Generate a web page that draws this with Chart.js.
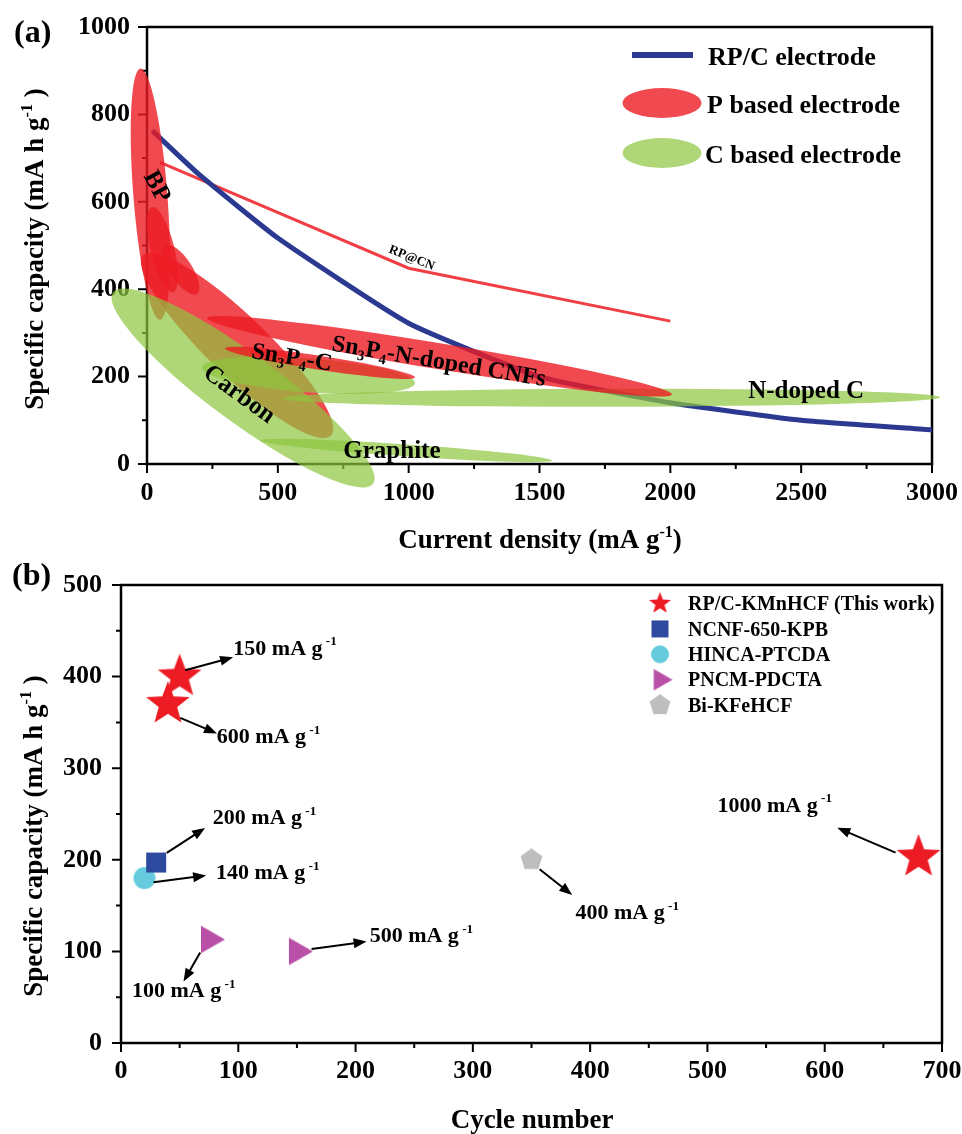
<!DOCTYPE html>
<html>
<head>
<meta charset="utf-8">
<title>RP/C electrode comparison</title>
<script src="https://cdn.jsdelivr.net/npm/chart.js@4.4.1/dist/chart.umd.min.js"></script>
<style>
  body { margin: 0; background: #fff; }
  #panelA { position: absolute; left: 0; top: 0; }
  #panelB { position: absolute; left: 0; top: 560px; }
  canvas { display: block; }
</style>
</head>
<body>
<div id="panelA"><canvas id="chartA" width="962" height="560"></canvas></div>
<div id="panelB"><canvas id="chartB" width="962" height="574"></canvas></div>
<script>
// ---------- (a) rate capability ----------
const rpcCurrent = [20, 200, 500, 1000, 1500, 2000, 2500, 3000];
const rpcCapacity = [763, 662, 517, 322, 200, 140, 100, 78];
const rpcnCurrent = [50, 1000, 2000];
const rpcnCapacity = [690, 448, 327];

// literature bands: [current, capacity] at the two ends of each band
const pBandNames = ['BP', 'BP 2', 'BP 3', 'P/C', 'Sn3P4-N-doped CNFs', 'Sn3P4-C'];
const pBandStart = [[-25, 905], [19, 588], [69, 501], [-15, 478], [229, 334], [298, 265]];
const pBandEnd = [[50, 330], [99, 393], [191, 389], [703, 65], [2006, 159], [1024, 198]];
const cBandNames = ['Carbon', 'Sn3P4-C', 'N-doped C', 'Graphite'];
const cBandStart = [[-130, 393], [210, 221], [520, 150], [432, 54]];
const cBandEnd = [[864, -45], [1024, 185], [3031, 153], [1548, 8]];

// ---------- (b) cycling comparison ----------
const seriesNames = ['RP/C-KMnHCF (This work)', 'NCNF-650-KPB', 'HINCA-PTCDA', 'PNCM-PDCTA', 'Bi-KFeHCF'];
const rpcCycles = [50, 40, 680];
const rpcCap = [400, 370, 203];
const ncnfCycles = [30];
const ncnfCap = [197];
const hincaCycles = [20];
const hincaCap = [180];
const pncmCycles = [75, 150];
const pncmCap = [113, 100];
const bikCycles = [350];
const bikCap = [200];
const rateValues = ['150', '600', '1000', '200', '140', '100', '500', '400'];

// ---------- styling ----------
const FONT = '"Liberation Serif", "Times New Roman", serif';
const RED = 'rgba(237,28,36,0.8)';
const GREEN = 'rgba(141,198,63,0.7)';
const BLUE = '#2B3990';
const font = s => `bold ${s}px ${FONT}`;

// text with sub/superscripts, y is the middle of capitals
function richText(ctx, parts, x, y, size, opts = {}) {
  const align = opts.align || 'left';
  const pieces = parts.map(p => {
    const [t, kind] = Array.isArray(p) ? p : [p, ''];
    const s = kind ? size * 0.6 : size;
    ctx.font = font(s);
    return { t, kind, s, w: ctx.measureText(t).width };
  });
  const total = pieces.reduce((a, p) => a + p.w, 0);
  ctx.save();
  ctx.translate(x, y);
  ctx.rotate((opts.rotate || 0) * Math.PI / 180);
  let cx = align === 'center' ? -total / 2 : align === 'right' ? -total : 0;
  ctx.fillStyle = '#000';
  ctx.textAlign = 'left';
  ctx.textBaseline = 'alphabetic';
  pieces.forEach(p => {
    ctx.font = font(p.s);
    const dy = p.kind === 'sub' ? size * 0.2 : p.kind === 'sup' ? -size * 0.42 : 0;
    ctx.fillText(p.t, cx, size * 0.33 + dy);
    cx += p.w;
  });
  ctx.restore();
}

function drawFrame(chart) {
  const { ctx, chartArea: a, scales: { x, y } } = chart;
  ctx.save();
  ctx.strokeStyle = '#000';
  ctx.lineWidth = 2.5;
  ctx.strokeRect(a.left, a.top, a.right - a.left, a.bottom - a.top);
  ctx.lineWidth = 2;
  ctx.beginPath();
  x.ticks.forEach(t => {
    const px = x.getPixelForValue(t.value);
    ctx.moveTo(px, a.bottom);
    ctx.lineTo(px, a.bottom + (t.label !== '' ? 9 : 5));
  });
  y.ticks.forEach(t => {
    const py = y.getPixelForValue(t.value);
    ctx.moveTo(a.left, py);
    ctx.lineTo(a.left - (t.label !== '' ? 9 : 5), py);
  });
  ctx.stroke();
  ctx.restore();
}

function drawBand(ctx, x, y, from, to, halfWidth, color) {
  const x1 = x.getPixelForValue(from[0]), y1 = y.getPixelForValue(from[1]);
  const x2 = x.getPixelForValue(to[0]), y2 = y.getPixelForValue(to[1]);
  ctx.beginPath();
  ctx.ellipse((x1 + x2) / 2, (y1 + y2) / 2, Math.hypot(x2 - x1, y2 - y1) / 2, halfWidth,
    Math.atan2(y2 - y1, x2 - x1), 0, Math.PI * 2);
  ctx.fillStyle = color;
  ctx.fill();
}

function markerCanvas(shape, size, color) {
  const c = document.createElement('canvas');
  const s = Math.ceil(size * 2 + 2);
  c.width = s; c.height = s;
  const g = c.getContext('2d');
  g.translate(s / 2, s / 2);
  g.fillStyle = color;
  g.beginPath();
  if (shape === 'star') {
    for (let i = 0; i < 10; i++) {
      const r = i % 2 ? size * 0.42 : size;
      const ang = -Math.PI / 2 + i * Math.PI / 5;
      g.lineTo(r * Math.cos(ang), r * Math.sin(ang));
    }
  } else if (shape === 'pentagon') {
    for (let i = 0; i < 5; i++) {
      const ang = -Math.PI / 2 + i * 2 * Math.PI / 5;
      g.lineTo(size * Math.cos(ang), size * Math.sin(ang));
    }
  } else if (shape === 'square') {
    g.rect(-size, -size, size * 2, size * 2);
  } else if (shape === 'circle') {
    g.arc(0, 0, size, 0, Math.PI * 2);
  } else if (shape === 'triangle') {
    g.moveTo(size, 0);
    g.lineTo(-size / 2, size * 0.866);
    g.lineTo(-size / 2, -size * 0.866);
  }
  g.closePath();
  g.fill();
  return c;
}

const pts = (xs, ys) => xs.map((v, i) => ({ x: v, y: ys[i] }));

// keep the plot box where the layout padding puts it
const noPadX = (h) => s => { s.height = h; s.paddingLeft = 0; s.paddingRight = 0; };
const noPadY = (w) => s => { s.width = w; s.paddingTop = 0; s.paddingBottom = 0; };

// ================= chart (a) =================
const pBandHalf = [17, 12, 11, 30, 13, 7];
const cBandHalf = [34, 17, 9, 6];
const bandOrder = [['p', 0], ['p', 1], ['p', 2], ['p', 3], ['c', 0], ['c', 1], ['c', 2], ['c', 3], ['p', 4], ['p', 5]];

const bandLabels = [
  { parts: ['BP'], at: [42, 636], rot: 62, size: 25 },
  { parts: ['RP@CN'], at: [1013, 473], rot: 22, size: 13 },
  { parts: ['Sn', ['3', 'sub'], 'P', ['4', 'sub'], '-N-doped CNFs'], at: [1116, 237], rot: 9.5, size: 24 },
  { parts: ['Sn', ['3', 'sub'], 'P', ['4', 'sub'], '-C'], at: [554, 246], rot: 9, size: 24 },
  { parts: ['Carbon'], at: [355, 162], rot: 36, size: 25 },
  { parts: ['Graphite'], at: [936, 33], rot: 0, size: 25 },
  { parts: ['N-doped C'], at: [2519, 171], rot: 0, size: 25 }
];

const decorA = {
  id: 'decorA',
  beforeDatasetsDraw(chart) { drawFrame(chart); },
  afterDatasetsDraw(chart) {
    const { ctx, scales: { x, y } } = chart;
    ctx.save();
    bandOrder.forEach(([kind, i]) => {
      if (kind === 'p') drawBand(ctx, x, y, pBandStart[i], pBandEnd[i], pBandHalf[i], RED);
      else drawBand(ctx, x, y, cBandStart[i], cBandEnd[i], cBandHalf[i], GREEN);
    });
    ctx.restore();
    bandLabels.forEach(l => richText(ctx, l.parts, x.getPixelForValue(l.at[0]), y.getPixelForValue(l.at[1]),
      l.size, { align: 'center', rotate: l.rot }));

    // legend
    ctx.save();
    ctx.strokeStyle = BLUE; ctx.lineWidth = 6;
    ctx.beginPath(); ctx.moveTo(632, 55); ctx.lineTo(693, 55); ctx.stroke();
    ctx.fillStyle = RED;
    ctx.beginPath(); ctx.ellipse(662, 103, 39.5, 15, 0, 0, Math.PI * 2); ctx.fill();
    ctx.fillStyle = GREEN;
    ctx.beginPath(); ctx.ellipse(662, 153, 39.5, 15, 0, 0, Math.PI * 2); ctx.fill();
    ctx.restore();
    richText(ctx, ['RP/C electrode'], 708, 56, 26);
    richText(ctx, ['P based electrode'], 707, 104, 26);
    richText(ctx, ['C based electrode'], 705, 154, 26);

    // titles
    richText(ctx, ['Current density (mA g', ['-1', 'sup'], ')'], 540, 539, 27, { align: 'center' });
    richText(ctx, ['Specific capacity (mA h g', ['-1', 'sup'], ' )'], 34, 249, 27, { align: 'center', rotate: -90 });
    richText(ctx, ['(a)'], 14, 31, 32);
  }
};

const tickFont = { family: FONT, size: 26, weight: 'bold' };

new Chart(document.getElementById('chartA'), {
  type: 'scatter',
  data: {
    datasets: [
      { label: 'RP/C electrode', data: pts(rpcCurrent, rpcCapacity), showLine: true, borderColor: BLUE,
        borderWidth: 5, pointRadius: 0, tension: 0.15 },
      { label: 'RP@CN', data: pts(rpcnCurrent, rpcnCapacity), showLine: true, borderColor: 'rgba(237,28,36,0.85)',
        borderWidth: 3, pointRadius: 0, tension: 0 }
    ]
  },
  options: {
    responsive: false,
    animation: false,
    layout: { padding: { left: 0, top: 27, right: 30, bottom: 0 } },
    plugins: { legend: { display: false }, tooltip: { enabled: false } },
    scales: {
      x: {
        type: 'linear', min: 0, max: 3000,
        grid: { display: false, drawTicks: false }, border: { display: false },
        ticks: { stepSize: 250, autoSkip: false, maxRotation: 0, padding: 14, color: '#000', font: tickFont,
          callback: v => (v % 500 === 0 ? v : '') },
        afterFit: noPadX(96)
      },
      y: {
        min: 0, max: 1000,
        grid: { display: false, drawTicks: false }, border: { display: false },
        ticks: { stepSize: 100, autoSkip: false, padding: 17, color: '#000', font: tickFont,
          callback: v => (v % 200 === 0 ? v : '') },
        afterFit: noPadY(147)
      }
    }
  },
  plugins: [decorA]
});

// ================= chart (b) =================
const markerColors = ['#ED1C24', '#2E4A9E', '#66CCDD', '#B94FA6', '#BEBEBE'];
const markerShapes = ['star', 'square', 'circle', 'triangle', 'pentagon'];
const markerSizes = [23, 10, 11, 16, 11.5];
const legendSizes = [11.5, 8.5, 9, 12.5, 11];

// arrows: tail, head, label anchor (left, middle) in data units
const arrowTail = [[54.7, 407], [50.5, 355], [660.4, 207.9], [39, 207.5], [27.7, 175.6], [67.5, 98.8], [162.5, 102.5], [356.9, 189.7]];
const arrowHead = [[95.6, 421], [81.9, 338], [610.7, 235], [71.7, 234.8], [72.6, 182.8], [53.3, 67.2], [209.4, 110.8], [384.7, 161.7]];
const labelAt = [[95.8, 431.8], [81.7, 335.6], [508.6, 260.4], [78.3, 247], [81, 187], [9.4, 58], [212, 117.7], [387.5, 143.5]];

function arrow(ctx, x1, y1, x2, y2) {
  const ang = Math.atan2(y2 - y1, x2 - x1);
  const hl = 13, hw = 5;
  ctx.beginPath();
  ctx.moveTo(x1, y1);
  ctx.lineTo(x2 - hl * 0.8 * Math.cos(ang), y2 - hl * 0.8 * Math.sin(ang));
  ctx.stroke();
  ctx.beginPath();
  ctx.moveTo(x2, y2);
  ctx.lineTo(x2 - hl * Math.cos(ang) + hw * Math.sin(ang), y2 - hl * Math.sin(ang) - hw * Math.cos(ang));
  ctx.lineTo(x2 - hl * Math.cos(ang) - hw * Math.sin(ang), y2 - hl * Math.sin(ang) + hw * Math.cos(ang));
  ctx.closePath();
  ctx.fill();
}

const legendIcons = markerShapes.map((s, i) => markerCanvas(s, legendSizes[i], markerColors[i]));

const decorB = {
  id: 'decorB',
  beforeDatasetsDraw(chart) { drawFrame(chart); },
  afterDatasetsDraw(chart) {
    const { ctx, scales: { x, y } } = chart;
    ctx.save();
    ctx.strokeStyle = '#000'; ctx.fillStyle = '#000'; ctx.lineWidth = 2;
    arrowTail.forEach((t, i) => arrow(ctx, x.getPixelForValue(t[0]), y.getPixelForValue(t[1]),
      x.getPixelForValue(arrowHead[i][0]), y.getPixelForValue(arrowHead[i][1])));
    ctx.restore();
    rateValues.forEach((v, i) => richText(ctx, [v + ' mA g', [' -1', 'sup']],
      x.getPixelForValue(labelAt[i][0]), y.getPixelForValue(labelAt[i][1]), 22));

    // legend
    seriesNames.forEach((name, i) => {
      const ly = 43.5 + i * 25.4;
      const ic = legendIcons[i];
      ctx.drawImage(ic, 660 - ic.width / 2, ly - ic.height / 2);
      richText(ctx, [name], 688, ly, 20);
    });

    // titles
    richText(ctx, ['Cycle number'], 532, 559, 27, { align: 'center' });
    richText(ctx, ['Specific capacity (mA h g', ['-1', 'sup'], ' )'], 33, 276, 27, { align: 'center', rotate: -90 });
    richText(ctx, ['(b)'], 12, 14, 32);
  }
};

const seriesB = [
  pts(rpcCycles, rpcCap), pts(ncnfCycles, ncnfCap), pts(hincaCycles, hincaCap),
  pts(pncmCycles, pncmCap), pts(bikCycles, bikCap)
];

new Chart(document.getElementById('chartB'), {
  type: 'scatter',
  data: {
    datasets: seriesB.map((d, i) => ({
      label: seriesNames[i],
      data: d,
      pointStyle: markerCanvas(markerShapes[i], markerSizes[i], markerColors[i]),
      backgroundColor: markerColors[i],
      borderColor: markerColors[i],
      clip: false
    }))
  },
  options: {
    responsive: false,
    animation: false,
    layout: { padding: { left: 0, top: 25, right: 20, bottom: 0 } },
    plugins: { legend: { display: false }, tooltip: { enabled: false } },
    scales: {
      x: {
        type: 'linear', min: 0, max: 700,
        grid: { display: false, drawTicks: false }, border: { display: false },
        ticks: { stepSize: 50, autoSkip: false, maxRotation: 0, padding: 13, color: '#000', font: tickFont,
          callback: v => (v % 100 === 0 ? v : '') },
        afterFit: noPadX(91)
      },
      y: {
        min: 0, max: 500,
        grid: { display: false, drawTicks: false }, border: { display: false },
        ticks: { stepSize: 50, autoSkip: false, padding: 19, color: '#000', font: tickFont,
          callback: v => (v % 100 === 0 ? v : '') },
        afterFit: noPadY(121)
      }
    }
  },
  plugins: [decorB]
});
</script>
</body>
</html>
